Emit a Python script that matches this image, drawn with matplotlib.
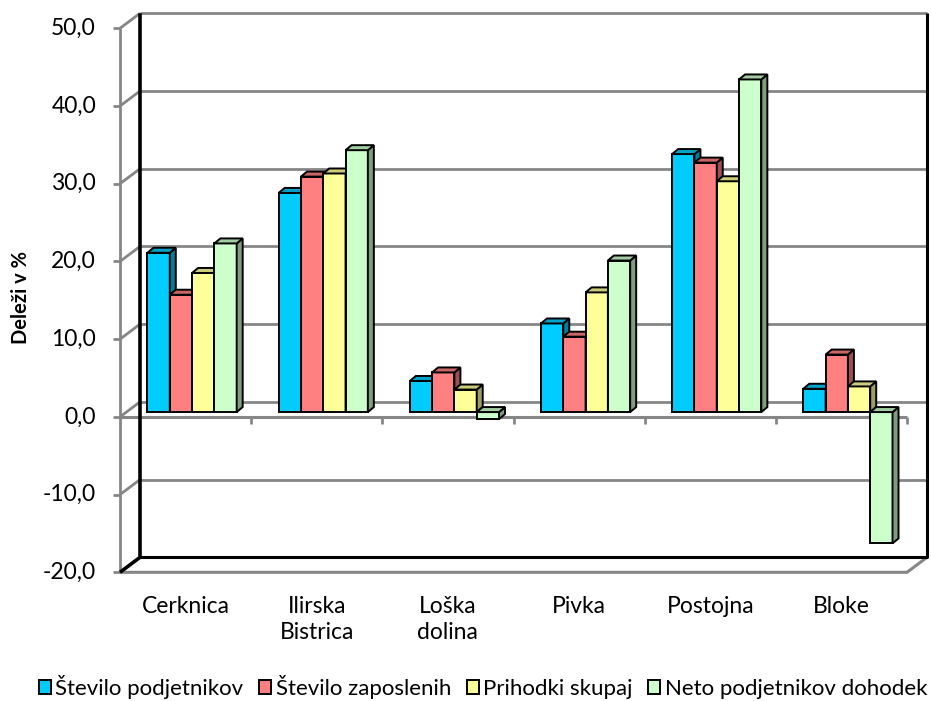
import matplotlib
matplotlib.use("Agg")
import matplotlib.pyplot as plt
from matplotlib.patches import Polygon
from matplotlib.colors import to_rgb

categories = ["Cerknica", "Ilirska\nBistrica", "Loška\ndolina", "Pivka", "Postojna", "Bloke"]
series_names = ["Število podjetnikov", "Število zaposlenih", "Prihodki skupaj", "Neto podjetnikov dohodek"]
podjetniki = [20.5, 28.2, 4.0, 11.4, 33.2, 3.0]
zaposleni = [15.1, 30.3, 5.1, 9.7, 32.1, 7.4]
prihodki = [17.9, 30.7, 2.9, 15.4, 29.7, 3.3]
dohodek = [21.7, 33.7, -0.9, 19.5, 42.8, -16.9]
y_ticks = [-20, -10, 0, 10, 20, 30, 40, 50]

colors = ["#00CCFF", "#FF8080", "#FFFF99", "#CCFFCC"]
grid_color = "#868686"

plt.rcParams["font.family"] = ["Lato", "DejaVu Sans"]

W, H = 931, 701
fig = plt.figure(figsize=(W / 100, H / 100), dpi=100)
# front plane of the 3D box, in pixels: x 120..907, y 28..572
ax = fig.add_axes([120 / W, 1 - 572.3 / H, 787 / W, 544 / H])
ax.set_xlim(-0.5, len(categories) - 0.5)
ax.set_ylim(y_ticks[0], y_ticks[-1])
ax.axis("off")

# pixel -> data units
sx = len(categories) / 787
sy = (y_ticks[-1] - y_ticks[0]) / 544
wx, wy = 20 * sx, 15 * sy       # depth of the walls
bx, by = 6.5 * sx, 4.8 * sy     # bar front face behind the front plane
dx, dy = 6 * sx, 5 * sy         # depth of one bar

x0, x1 = -0.5, len(categories) - 0.5
ymin, ymax = y_ticks[0], y_ticks[-1]
kw = dict(clip_on=False, solid_capstyle="butt")

# back wall gridlines and left side wall
for v in y_ticks:
    if v != ymin:
        ax.plot([x0 + wx, x1 + wx], [v + wy, v + wy], color=grid_color, lw=2, zorder=1, **kw)
        ax.plot([x0, x0 + wx], [v, v + wy], color=grid_color, lw=2, zorder=1, **kw)
    ax.plot([x0 - 7 * sx, x0], [v, v], color=grid_color, lw=2, zorder=1, **kw)
    ax.text(x0 - 24 * sx, v, f"{v:.1f}".replace(".", ","), ha="right", va="center",
            fontsize=16.5, color="black")

ax.plot([x0, x0], [ymin, ymax], color=grid_color, lw=2, zorder=1, **kw)
# floor front edge and right diagonal
ax.plot([x0, x1, x1 + wx], [ymin, ymin, ymin + wy], color=grid_color, lw=2.2, zorder=1, **kw)
# back wall black outline
ax.plot([x0, x0 + wx, x0 + wx], [ymin, ymin + wy, ymax + wy], color="black", lw=2.6, zorder=2, **kw)
ax.plot([x0 + wx, x1 + wx, x1 + wx], [ymin + wy, ymin + wy, ymax + wy], color="black", lw=2.2, zorder=2, **kw)

# category axis at 0
ax.plot([x0, x1], [0, 0], color=grid_color, lw=2.2, zorder=1, **kw)
for k in range(1, len(categories) + 1):
    ax.plot([x0 + k, x0 + k], [0, -7 * sy], color=grid_color, lw=2, zorder=1, **kw)

for i, name in enumerate(categories):
    ax.text(i, ymin - 24 * sy, name, ha="center", va="top", fontsize=16.5,
            linespacing=1.3)

# bars
width = 0.17
handles = []
for j, vals in enumerate([podjetniki, zaposleni, prihodki, dohodek]):
    xs = [i - 1.5 * width + j * width + bx for i in range(len(categories))]
    bars = ax.bar(xs, vals, width=width, bottom=by, color=colors[j], edgecolor="black",
                  linewidth=1.4, zorder=3 + j, clip_on=False, label=series_names[j])
    handles.append(bars)
    base = to_rgb(colors[j])
    side_c = tuple(c * 0.62 for c in base)
    top_c = tuple(c * 0.8 for c in base)
    for rect in bars:
        xl = rect.get_x()
        xr = xl + rect.get_width()
        ya = rect.get_y()
        yb = ya + rect.get_height()
        lo, hi = min(ya, yb), max(ya, yb)
        side = Polygon([(xr, lo), (xr + dx, lo + dy), (xr + dx, hi + dy), (xr, hi)],
                       closed=True, facecolor=side_c, edgecolor="black", lw=1.4,
                       zorder=3.5 + j, clip_on=False)
        top = Polygon([(xl, hi), (xr, hi), (xr + dx, hi + dy), (xl + dx, hi + dy)],
                      closed=True, facecolor=top_c, edgecolor="black", lw=1.4,
                      zorder=3.5 + j, clip_on=False)
        ax.add_patch(side)
        ax.add_patch(top)

fig.text(21 / W, 1 - 298 / H, "Deleži v %", rotation=90, ha="center", va="center",
         fontsize=14.5, fontweight="bold")

fig.legend(handles, series_names, loc="center", bbox_to_anchor=(483 / W, 14 / H), ncol=4,
           frameon=False, fontsize=16, handlelength=0.55, handleheight=0.55,
           handletextpad=0.2, columnspacing=0.7, borderaxespad=0)

fig.savefig("out.png", dpi=100, facecolor="white")
